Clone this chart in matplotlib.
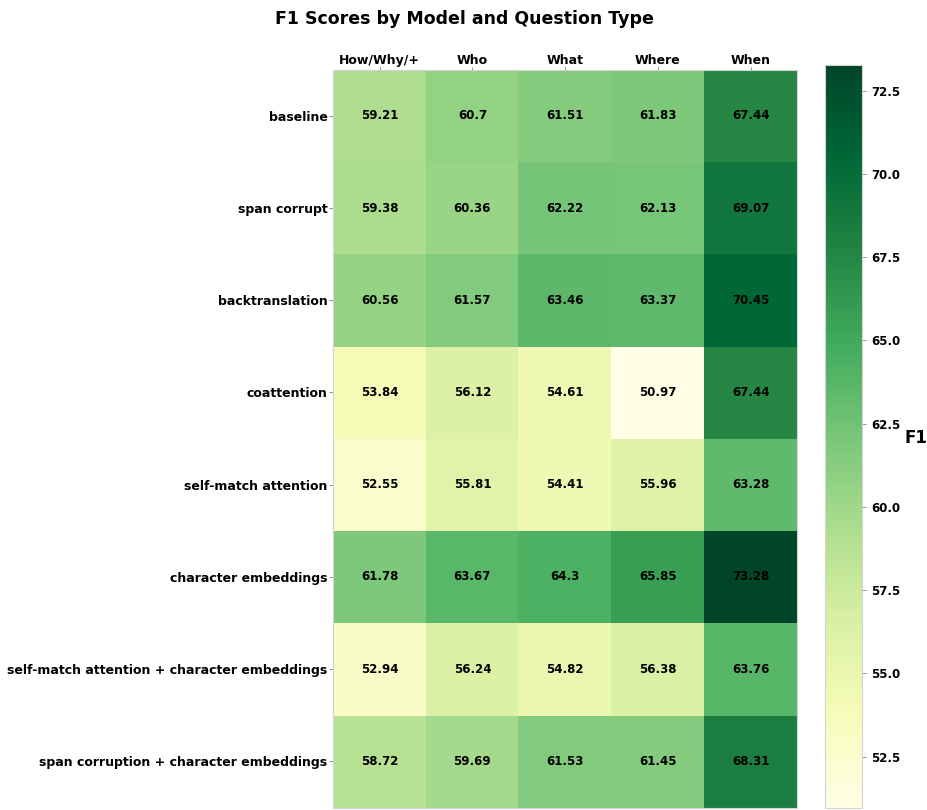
import numpy as np
import matplotlib.pyplot as plt

# datos del heatmap
models = ["baseline", "span corrupt", "backtranslation", "coattention",
          "self-match attention", "character embeddings",
          "self-match attention + character embeddings",
          "span corruption + character embeddings"]
qtypes = ["How/Why/+", "Who", "What", "Where", "When"]

how_why = [59.21, 59.38, 60.56, 53.84, 52.55, 61.78, 52.94, 58.72]
who = [60.7, 60.36, 61.57, 56.12, 55.81, 63.67, 56.24, 59.69]
what = [61.51, 62.22, 63.46, 54.61, 54.41, 64.3, 54.82, 61.53]
where = [61.83, 62.13, 63.37, 50.97, 55.96, 65.85, 56.38, 61.45]
when = [67.44, 69.07, 70.45, 67.44, 63.28, 73.28, 63.76, 68.31]

scores = np.array([how_why, who, what, where, when]).T

fig = plt.figure(figsize=(9.28, 8.10), dpi=100)
ax = fig.add_axes([0.359, 0.003, 0.5, 0.911])
cax = fig.add_axes([0.889, 0.003, 0.04, 0.917])

im = ax.imshow(scores, cmap="YlGn", aspect="auto",
               vmin=scores.min(), vmax=scores.max())

ax.set_xticks(range(len(qtypes)))
ax.set_xticklabels(qtypes, fontsize=9, fontweight="bold")
ax.xaxis.tick_top()
ax.set_yticks(range(len(models)))
ax.set_yticklabels(models, fontsize=9, fontweight="bold")
ax.tick_params(axis="y", length=3, width=0.6, color="gray", pad=1)
ax.tick_params(axis="x", length=2, width=0.6, color="gray", pad=0)
for s in ax.spines.values():
    s.set_color("lightgray")

# numeritos en cada celda
for i in range(len(models)):
    for j in range(len(qtypes)):
        ax.text(j, i, f"{scores[i, j]:g}", ha="center", va="center",
                fontsize=8.5, fontweight="bold", color="black")

cb = fig.colorbar(im, cax=cax)
cb.set_ticks([52.5, 55.0, 57.5, 60.0, 62.5, 65.0, 67.5, 70.0, 72.5])
cb.ax.tick_params(labelsize=8.5, length=3, width=0.6, color="gray")
for t in cb.ax.get_yticklabels():
    t.set_fontweight("bold")
cb.outline.set_edgecolor("lightgray")
fig.text(0.999, 0.459, "F1", fontsize=12, fontweight="bold", ha="right", va="center")

fig.suptitle("F1 Scores by Model and Question Type", fontsize=12.5,
             fontweight="bold", y=0.988)

plt.savefig("out.png", dpi=100)
